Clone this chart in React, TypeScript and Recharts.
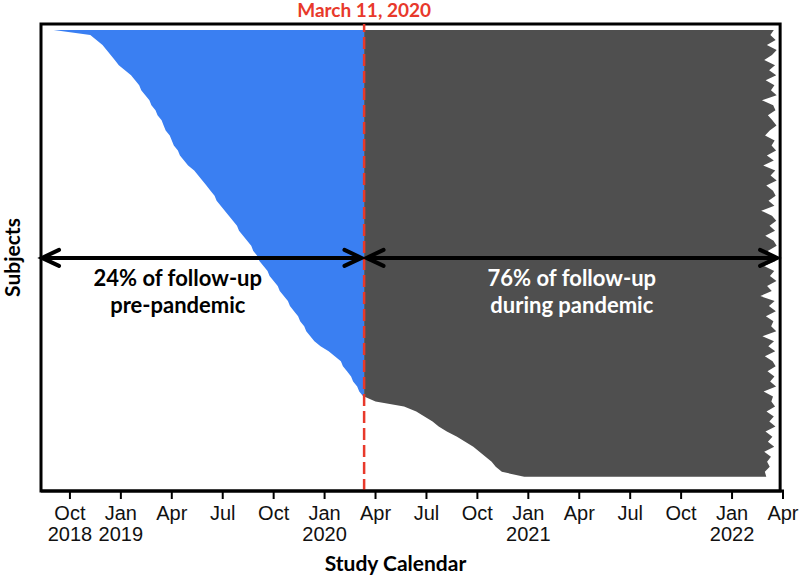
import React from 'react';
import { AreaChart, Area, XAxis, YAxis, ReferenceLine, ReferenceArea } from 'recharts';

// dates are decimal years; March 11, 2020 ~ 2020.194
const PANDEMIC = 2020.194;

// enrollment date of each subject (sorted, top row first)
const subjectStart = [
  2018.67, 2018.85, 2018.88, 2018.91, 2018.93, 2018.95, 2018.97, 2018.99, 2019.02, 2019.05,
  2019.07, 2019.09, 2019.10, 2019.12, 2019.14, 2019.15, 2019.17, 2019.18, 2019.20, 2019.21,
  2019.22, 2019.24, 2019.25, 2019.26, 2019.28, 2019.29, 2019.31, 2019.33, 2019.36, 2019.38,
  2019.40, 2019.42, 2019.44, 2019.46, 2019.47, 2019.49, 2019.51, 2019.53, 2019.55, 2019.57,
  2019.58, 2019.60, 2019.62, 2019.64, 2019.65, 2019.67, 2019.68, 2019.70, 2019.72, 2019.73,
  2019.75, 2019.77, 2019.78, 2019.80, 2019.82, 2019.83, 2019.85, 2019.87, 2019.88, 2019.90,
  2019.91, 2019.93, 2019.95, 2019.98, 2020.02, 2020.05, 2020.08, 2020.09, 2020.11, 2020.13,
  2020.14, 2020.16, 2020.17, 2020.19, 2020.25, 2020.39, 2020.45, 2020.49, 2020.53, 2020.56,
  2020.60, 2020.65, 2020.69, 2020.73, 2020.76, 2020.79, 2020.82, 2020.84, 2020.87, 2020.98,
];

// end of follow-up for each subject
const followUpEnd = [
  2022.205, 2022.188, 2022.214, 2022.171, 2022.219, 2022.196, 2022.158, 2022.211, 2022.182, 2022.217,
  2022.165, 2022.208, 2022.191, 2022.219, 2022.147, 2022.202, 2022.213, 2022.176, 2022.198, 2022.218,
  2022.185, 2022.162, 2022.209, 2022.194, 2022.216, 2022.171, 2022.205, 2022.153, 2022.212, 2022.189,
  2022.219, 2022.168, 2022.201, 2022.214, 2022.179, 2022.208, 2022.143, 2022.196, 2022.217, 2022.184,
  2022.211, 2022.163, 2022.204, 2022.219, 2022.175, 2022.199, 2022.213, 2022.157, 2022.207, 2022.186,
  2022.218, 2022.172, 2022.195, 2022.139, 2022.209, 2022.181, 2022.215, 2022.166, 2022.203, 2022.192,
  2022.217, 2022.149, 2022.206, 2022.178, 2022.212, 2022.161, 2022.199, 2022.214, 2022.174, 2022.208,
  2022.187, 2022.216, 2022.155, 2022.201, 2022.193, 2022.211, 2022.169, 2022.205, 2022.183, 2022.213,
  2022.164, 2022.198, 2022.176, 2022.207, 2022.158, 2022.191, 2022.172, 2022.185, 2022.161, 2022.168,
];

const tickValues = [2018.75, 2019, 2019.25, 2019.5, 2019.75, 2020, 2020.25, 2020.5, 2020.75, 2021, 2021.25, 2021.5, 2021.75, 2022, 2022.25];
const tickMonths = ['Oct', 'Jan', 'Apr', 'Jul', 'Oct', 'Jan', 'Apr', 'Jul', 'Oct', 'Jan', 'Apr', 'Jul', 'Oct', 'Jan', 'Apr'];
const tickYears = ['2018', '2019', '', '', '', '2020', '', '', '', '2021', '', '', '', '2022', ''];

const rows = subjectStart.map((start, i) => ({
  i,
  pre: start < PANDEMIC ? [start, PANDEMIC] : null,
  during: [Math.max(start, PANDEMIC), followUpEnd[i]],
}));

const BOLD = 'Lato, "Open Sans", sans-serif';

const MonthTick = (props: any) => {
  const { x, y, payload } = props;
  const k = tickValues.findIndex((v) => Math.abs(v - payload.value) < 1e-6);
  const style = { fontSize: 20, fontFamily: '"Liberation Sans", Arial, sans-serif', fill: '#111' };
  return (
    <g>
      <text x={x} y={y + 21} textAnchor="middle" {...style}>{tickMonths[k]}</text>
      {tickYears[k] && <text x={x} y={y + 42} textAnchor="middle" {...style}>{tickYears[k]}</text>}
    </g>
  );
};

const XTitle = ({ viewBox }: any) => (
  <text x={viewBox.x + viewBox.width / 2 - 17} y={viewBox.y + 80} textAnchor="middle"
    fontSize={21} fontWeight="bold" fontFamily={BOLD} fill="#000">Study Calendar</text>
);

const YTitle = ({ viewBox }: any) => {
  const cx = viewBox.x + 20;
  const cy = viewBox.y + viewBox.height / 2;
  return (
    <text x={cx} y={cy} transform={`rotate(-90 ${cx} ${cy})`} textAnchor="middle"
      fontSize={21} fontWeight="bold" fontFamily={BOLD} fill="#000">Subjects</text>
  );
};

const arrowShape = (lines: string[], color: string, textPos: number) => (props: any) => {
  const { x1, y1, x2, y2 } = props;
  const head = 17;
  const spread = 8;
  const tx = x1 + (x2 - x1) * textPos;
  const arm = { fill: 'none', stroke: '#000', strokeWidth: 4, strokeLinecap: 'round' as const };
  return (
    <g>
      <line x1={x1} y1={y1} x2={x2} y2={y2} stroke="#000" strokeWidth={4} />
      <polyline points={`${x1 + head},${y1 - spread} ${x1},${y1} ${x1 + head},${y1 + spread}`} {...arm} />
      <polyline points={`${x2 - head},${y2 - spread} ${x2},${y2} ${x2 - head},${y2 + spread}`} {...arm} />
      {lines.map((t, k) => (
        <text key={k} x={tx} y={y1 + 28 + k * 27} textAnchor="middle" fill={color}
          fontSize={22} fontWeight="bold" fontFamily={BOLD}>{t}</text>
      ))}
    </g>
  );
};

export default function App() {
  return (
    <div style={{ position: 'absolute', left: 0, top: 0, width: 800, height: 579, background: '#fff' }}>
      <AreaChart width={800} height={579} data={rows} layout="vertical"
        margin={{ top: 24, right: 16, bottom: 8, left: 0 }}>
        <XAxis type="number" domain={[2018.608, 2022.255]} allowDataOverflow ticks={tickValues} interval={0}
          tick={<MonthTick />} tickSize={8} tickMargin={0} height={80}
          tickLine={{ stroke: '#000', strokeWidth: 2 }} axisLine={{ stroke: '#000', strokeWidth: 3 }}
          label={{ content: XTitle }} />
        <YAxis type="number" dataKey="i" domain={[-1.195, 91.83]} allowDataOverflow width={41}
          tick={false} tickLine={false} axisLine={false} label={{ content: YTitle }} />
        <Area dataKey="pre" type="linear" stroke="none" fill="#3a7ff2" fillOpacity={1} isAnimationActive={false} />
        <Area dataKey="during" type="linear" stroke="none" fill="#4f4f4f" fillOpacity={1} isAnimationActive={false} />
        <ReferenceArea x1={2018.608} x2={2022.236} y1={-1.195} y2={91.83} ifOverflow="visible"
          fill="none" stroke="#000" strokeWidth={3} />
        <ReferenceLine x={PANDEMIC} stroke="#e8392b" strokeWidth={2.5} strokeDasharray="12 5"
          label={{ value: 'March 11, 2020', position: 'top', offset: 7, fill: '#e8392b', fontSize: 19, fontWeight: 'bold', fontFamily: BOLD }} />
        <ReferenceLine segment={[{ x: 2018.613, y: 45.4 }, { x: 2020.181, y: 45.4 }]}
          shape={arrowShape(['24% of follow-up', 'pre-pandemic'], '#000', 0.425)} />
        <ReferenceLine segment={[{ x: 2020.206, y: 45.4 }, { x: 2022.221, y: 45.4 }]}
          shape={arrowShape(['76% of follow-up', 'during pandemic'], '#fff', 0.5)} />
      </AreaChart>
    </div>
  );
}
